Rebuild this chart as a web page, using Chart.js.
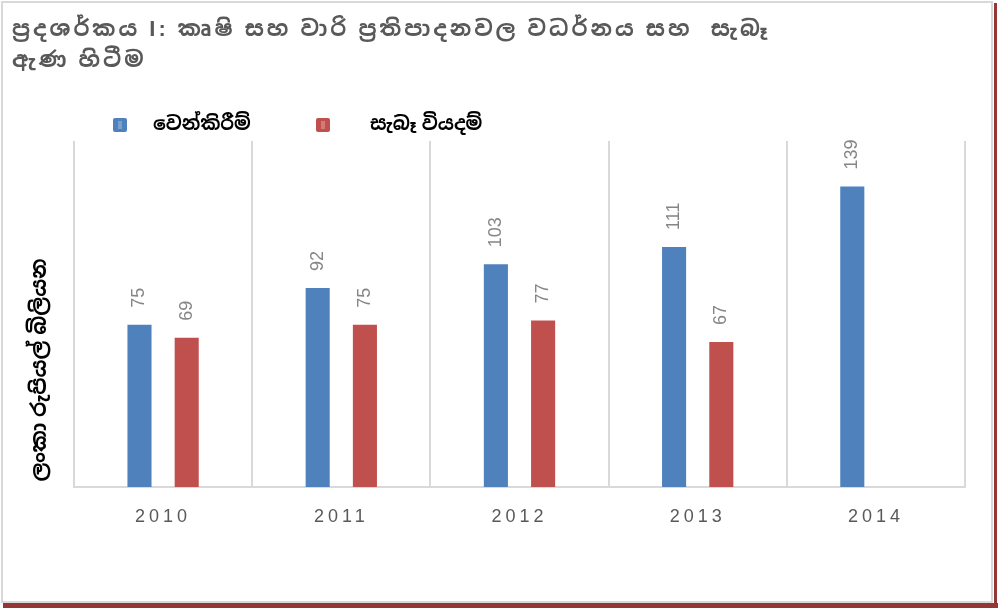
<!DOCTYPE html>
<html>
<head>
<meta charset="utf-8">
<script src="https://cdn.jsdelivr.net/npm/chart.js@4"></script>
<style>
html,body{margin:0;padding:0;background:#fff;}
#wrap{position:relative;width:998px;height:608px;}
</style>
</head>
<body>
<div id="wrap"><canvas id="c" width="998" height="608"></canvas></div>
<script>
const titleLines = ["ප්‍රදශර්කය I: කෘෂි සහ වාරි ප්‍රතිපාදනවල වධර්නය සහ  සැබෑ", "ඇණ හිටීම"];
const yAxisTitle = "ලංකා රුපියල් බිලියන";
const years = ["2010", "2011", "2012", "2013", "2014"];
const seriesNames = ["වෙන්කිරීම්", "සැබෑ වියදම්"];
const allocations = [75, 92, 103, 111, 139];
const actualSpending = [69, 75, 77, 67, null];
const seriesColors = ["#4f81bd", "#c0504d"];

const SIN = '"Liberation Sans","Noto Sans Sinhala","Iskoola Pota","Noto Sans","DejaVu Sans",sans-serif';

const decor = {
  id: 'decor',
  beforeDraw(chart) {
    const ctx = chart.ctx;
    ctx.save();
    ctx.fillStyle = '#fff';
    ctx.fillRect(0, 0, chart.width, chart.height);
    ctx.strokeStyle = '#d9d9d9';
    ctx.lineWidth = 2;
    ctx.strokeRect(2, 2, 990, 600);
    ctx.fillStyle = '#943634';
    ctx.fillRect(994, 3, 3, 605);
    ctx.fillRect(3, 603, 995, 5);
    ctx.restore();
    ctx.letterSpacing = '4px';
  },
  beforeDatasetsDraw(chart) {
    chart.ctx.letterSpacing = '0px';
  },
  afterDatasetsDraw(chart) {
    const ctx = chart.ctx;
    ctx.save();
    ctx.letterSpacing = '0px';
    // data labels
    ctx.fillStyle = '#868686';
    ctx.font = '18px "Liberation Sans", Arial, sans-serif';
    ctx.textAlign = 'left';
    ctx.textBaseline = 'middle';
    chart.data.datasets.forEach((ds, di) => {
      const meta = chart.getDatasetMeta(di);
      meta.data.forEach((bar, i) => {
        const v = ds.data[i];
        if (v === null || v === undefined) return;
        ctx.save();
        ctx.translate(bar.x, bar.y - 17);
        ctx.rotate(-Math.PI / 2);
        ctx.fillText(String(v), 0, 0);
        ctx.restore();
      });
    });
    // title
    ctx.fillStyle = '#595959';
    ctx.font = 'bold 22px ' + SIN;
    ctx.letterSpacing = '3px';
    ctx.textAlign = 'left';
    ctx.textBaseline = 'middle';
    ctx.fillText(titleLines[0], 12, 30);
    ctx.fillText(titleLines[1], 12, 61);
    ctx.letterSpacing = '0px';
    // legend
    const lx = [113, 316];
    const tx = [153, 370];
    chart.data.datasets.forEach((ds, di) => {
      ctx.fillStyle = ds.backgroundColor;
      ctx.beginPath();
      ctx.roundRect(lx[di], 118, 14, 14, 2);
      ctx.fill();
      ctx.fillStyle = 'rgba(255,255,255,0.25)';
      ctx.fillRect(lx[di] + 5, 121, 4, 8);
      ctx.fillStyle = '#000';
      ctx.font = 'bold 19px ' + SIN;
      ctx.textBaseline = 'middle';
      ctx.fillText(ds.label, tx[di], 125);
    });
    // y axis title
    ctx.save();
    ctx.translate(40, 370);
    ctx.rotate(-Math.PI / 2);
    ctx.textAlign = 'center';
    ctx.textBaseline = 'middle';
    ctx.fillStyle = '#000';
    ctx.font = 'bold 21px ' + SIN;
    ctx.fillText(yAxisTitle, 0, 0);
    ctx.restore();
    ctx.restore();
  }
};

new Chart(document.getElementById('c'), {
  type: 'bar',
  data: {
    labels: years,
    datasets: [
      { label: seriesNames[0], data: allocations, backgroundColor: seriesColors[0], borderWidth: 0 },
      { label: seriesNames[1], data: actualSpending, backgroundColor: seriesColors[1], borderWidth: 0 }
    ]
  },
  options: {
    responsive: false,
    animation: false,
    devicePixelRatio: 1,
    categoryPercentage: 0.53,
    barPercentage: 0.51,
    layout: { padding: { left: 74, right: 33, top: 141, bottom: 0 } },
    plugins: { legend: { display: false }, title: { display: false }, tooltip: { enabled: false } },
    scales: {
      y: { display: false, min: 0, max: 160 },
      x: {
        grid: { display: true, color: '#d9d9d9', lineWidth: 2, drawTicks: false, offset: true },
        border: { display: true, color: '#d9d9d9', width: 2 },
        ticks: { color: '#595959', font: { size: 18, family: '"Liberation Sans", Arial, sans-serif' }, padding: 19 },
        afterFit(s) { s.height = 121; }
      }
    }
  },
  plugins: [decor]
});
</script>
</body>
</html>
